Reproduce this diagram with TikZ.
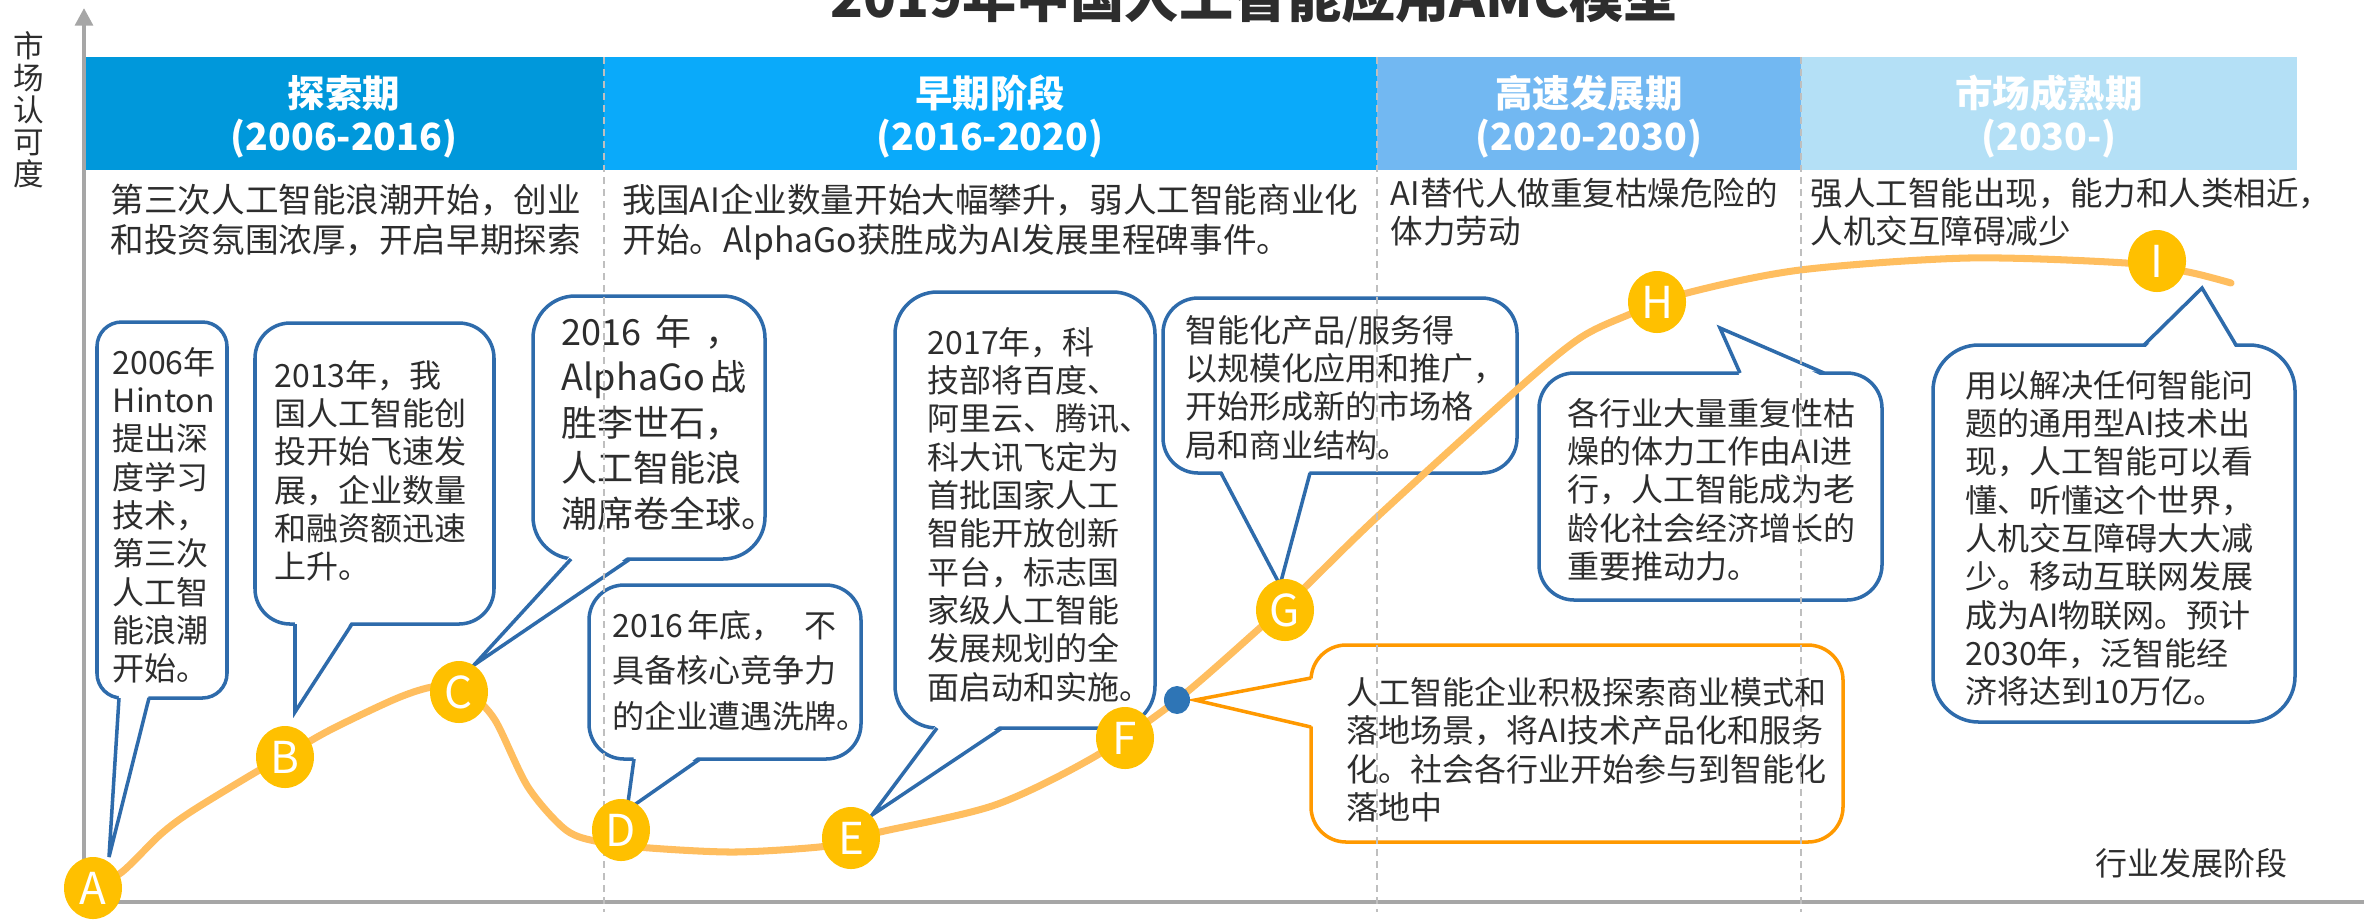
\documentclass[tikz,border=0pt]{standalone}
\usepackage{fontspec}
\setmainfont{Noto Sans CJK SC}
\usetikzlibrary{arrows.meta,shapes.geometric}
\newlength\pxu \setlength\pxu{0.01cm}
\newcommand\vl[1]{\vtop{\lineskiplimit=-1000pt\lineskip=0pt\halign{##\hfil\cr#1\crcr}}}
\newcommand\vc[1]{\vtop{\lineskiplimit=-1000pt\lineskip=0pt\halign{\hfil##\hfil\cr#1\crcr}}}
\definecolor{hA}{RGB}{0,152,219}
\definecolor{hB}{RGB}{10,170,250}
\definecolor{hC}{RGB}{114,184,242}
\definecolor{hD}{RGB}{180,224,246}
\definecolor{bblue}{RGB}{46,107,171}
\definecolor{obrd}{RGB}{255,153,0}
\definecolor{crv}{RGB}{255,190,95}
\definecolor{cyel}{RGB}{255,192,0}
\definecolor{dotb}{RGB}{46,117,182}
\definecolor{axg}{RGB}{166,166,166}
\definecolor{dashg}{RGB}{191,191,191}
\definecolor{txt}{RGB}{45,45,45}
\begin{document}
\begin{tikzpicture}[x=0.01cm,y=-0.01cm,
  bub/.style={draw=bblue, line width=1pt, fill=white, rounded corners=10pt},
  obub/.style={draw=obrd, line width=1pt, fill=white, rounded corners=10pt},
  bside/.style={draw=bblue, line width=1pt, line join=miter},
  oside/.style={draw=obrd, line width=1pt, line join=miter},
  t32/.style={anchor=base west, inner sep=0, text=txt, font=\fontsize{9.1pt}{10.9pt}\selectfont},
  body/.style={anchor=base west, inner sep=0, text=txt, font=\fontsize{9.55pt}{11.4pt}\selectfont},
  bodys/.style={anchor=base west, inner sep=0, text=txt, font=\fontsize{9.25pt}{11pt}\selectfont},
  hdr/.style={anchor=base, inner sep=0, text=white, font=\bfseries\fontsize{10.64pt}{12.23pt}\selectfont},
  letter/.style={ellipse, fill=cyel, minimum width=58\pxu, minimum height=62\pxu, inner sep=0, text=white, font=\fontsize{12.5pt}{13pt}\selectfont},
  bdot/.style={ellipse, fill=dotb, minimum width=26\pxu, minimum height=28\pxu, inner sep=0},
  axisl/.style={draw=axg, line width=1.15pt},
  dline/.style={draw=dashg, line width=0.45pt, dash pattern=on 7\pxu off 5\pxu},
  curve/.style={draw=crv, line width=2pt, line cap=round}
]
\useasboundingbox (0,0) rectangle (2364,920);

% title
\node[anchor=base, inner sep=0, text=txt, font=\bfseries\fontsize{15.4pt}{18pt}\selectfont] (title) at (1254,17) {2019年中国人工智能应用AMC模型};

% header band
\fill[hA] (84,57) rectangle (604,170);
\fill[hB] (604,57) rectangle (1377,170);
\fill[hC] (1377,57) rectangle (1801,170);
\fill[hD] (1801,57) rectangle (2297,170);
\node[hdr] (h1) at (344,107) {\vc{探索期\cr (2006-2016)}};
\node[hdr] (h2) at (990,107) {\vc{早期阶段\cr (2016-2020)}};
\node[hdr] (h3) at (1589,107) {\vc{高速发展期\cr (2020-2030)}};
\node[hdr] (h4) at (2049,107) {\vc{市场成熟期\cr (2030-)}};

% stage descriptions
\node[body] (d1) at (110,212) {\vl{第三次人工智能浪潮开始，创业\cr 和投资氛围浓厚，开启早期探索}};
\node[body] (d2) at (622,212) {\vl{我国AI企业数量开始大幅攀升，弱人工智能商业化\cr 开始。AlphaGo获胜成为AI发展里程碑事件。}};
\node[bodys] (d3) at (1390,205) {\vl{AI替代人做重复枯燥危险的\cr 体力劳动}};
\node[bodys] (d4) at (1810,205) {\vl{强人工智能出现，能力和人类相近，\cr 人机交互障碍减少}};

% axes
\node[anchor=base, inner sep=0, text=txt, font=\fontsize{8.7pt}{9.1pt}\selectfont] (ylab) at (29,57) {\vc{市\cr 场\cr 认\cr 可\cr 度}};
\coordinate (O) at (84,902);
\coordinate (Ytop) at (84,8);
\coordinate (Xend) at (2364,902);
\draw[axisl] (O) -- (Xend);
\draw[axisl, -{Triangle[width=5pt,length=5pt]}] (O) -- (Ytop);
\node[anchor=base west, inner sep=0, text=txt, font=\fontsize{9.1pt}{10.9pt}\selectfont] (xlab) at (2095,875) {行业发展阶段};

% bubble A
\draw[bub, rounded corners=7pt] (97,322) rectangle (227,698);
\fill[white] (119,694) -- (109,857) -- (149,694) -- cycle;
\draw[bside] (119,698) -- (109,857) -- (149,698);
\node[t32] (tA) at (112,374) {\vl{2006年\cr Hinton\cr 提出深\cr 度学习\cr 技术，\cr 第三次\cr 人工智\cr 能浪潮\cr 开始。}};

% bubble B
\draw[bub] (255,323) rectangle (494,624);
\fill[white] (295,620) -- (295,712) -- (352,620) -- cycle;
\draw[bside] (295,624) -- (295,712) -- (352,624);
\node[t32] (tB) at (274,387) {\vl{2013年，我\cr 国人工智能创\cr 投开始飞速发\cr 展，企业数量\cr 和融资额迅速\cr 上升。}};

% bubble C
\draw[bub, rounded corners=12pt] (533,296) rectangle (765,559);
\fill[white] (571,555) -- (474,665) -- (630,555) -- cycle;
\draw[bside] (571,559) -- (474,665) -- (630,559);
\node[t32, font=\fontsize{10.24pt}{12.95pt}\selectfont] (tC) at (561,345) {\vl{\hbox to 180\pxu{2016\hfill 年\hfill ，}\cr \hbox to 185\pxu{AlphaGo\hfill 战}\cr 胜李世石，\cr 人工智能浪\cr 潮席卷全球。}};

% bubble D
\draw[bub] (589,585) rectangle (861,759);
\fill[white] (634,755) -- (627,810) -- (700,755) -- cycle;
\draw[bside] (634,759) -- (627,810) -- (700,759);
\node[t32, font=\fontsize{9.1pt}{12.95pt}\selectfont] (tD) at (612,637) {\vl{\hbox to 224\pxu{2016\hspace{4\pxu}年底，\hfill 不}\cr 具备核心竞争力\cr 的企业遭遇洗牌。}};

% bubble E
\draw[bub, rounded corners=12pt] (895,292) rectangle (1155,728);
\fill[white] (937,724) -- (872,815) -- (1002,724) -- cycle;
\draw[bside] (937,728) -- (872,815) -- (1002,728);
\node[t32] (tE) at (927,354) {\vl{2017年，科\cr 技部将百度、\cr 阿里云、腾讯、\cr 科大讯飞定为\cr 首批国家人工\cr 智能开放创新\cr 平台，标志国\cr 家级人工智能\cr 发展规划的全\cr 面启动和实施。}};

% bubble G
\draw[bub] (1163,298) rectangle (1517,473);
\fill[white] (1221,469) -- (1280,585) -- (1310,469) -- cycle;
\draw[bside] (1221,473) -- (1280,585) -- (1310,473);
\node[t32] (tG) at (1185,342) {\vl{智能化产品/服务得\cr 以规模化应用和推广，\cr 开始形成新的市场格\cr 局和商业结构。}};

% bubble H
\draw[bub] (1539,373) rectangle (1882,600);
\fill[white] (1740,377) -- (1720,328) -- (1824,377) -- cycle;
\draw[bside] (1740,373) -- (1720,328) -- (1824,373);
\node[t32] (tH) at (1567,425) {\vl{各行业大量重复性枯\cr 燥的体力工作由AI进\cr 行，人工智能成为老\cr 龄化社会经济增长的\cr 重要推动力。}};

% bubble I
\draw[bub, rounded corners=13pt] (1933,345) rectangle (2295,722);
\fill[white] (2144,349) -- (2202,288) -- (2236,349) -- cycle;
\draw[bside] (2144,345) -- (2202,288) -- (2236,345);
\node[t32] (tI) at (1965,397) {\vl{用以解决任何智能问\cr 题的通用型AI技术出\cr 现，人工智能可以看\cr 懂、听懂这个世界，\cr 人机交互障碍大大减\cr 少。移动互联网发展\cr 成为AI物联网。预计\cr 2030年，泛智能经\cr 济将达到10万亿。}};

% orange bubble
\draw[obub] (1311,645) rectangle (1843,842);
\fill[white] (1315,678) -- (1195,700) -- (1315,727) -- cycle;
\draw[oside] (1311,678) -- (1195,700) -- (1311,727);
\node[t32, font=\fontsize{9.1pt}{10.95pt}\selectfont] (tO) at (1346,704) {\vl{人工智能企业积极探索商业模式和\cr 落地场景，将AI技术产品化和服务\cr 化。社会各行业开始参与到智能化\cr 落地中}};

% curve
\draw[curve] plot[smooth, tension=0.5] coordinates {
 (93,888) (122,872) (161,834) (192,811) (256,772) (285,756) (330,730) (400,697) (440,686) (470,695)
 (495,720) (528,787) (566,830) (600,842) (650,848) (734,852) (819,847) (851,840) (880,832)
 (995,805) (1094,757) (1177,700) (1261,627) (1300,592) (1377,517) (1520,387) (1580,338)
 (1628,315) (1687,293) (1800,270) (1968,258) (2126,263) (2188,272) (2231,283)};

% stage separators
\draw[dline] (604,57) -- (604,912);
\draw[dline] (1377,57) -- (1377,912);
\draw[dline] (1801,57) -- (1801,912);

% milestone markers
\node[letter] (A) at (93,888) {A};
\node[letter] (B) at (285,757) {B};
\node[letter] (C) at (459,692) {C};
\node[letter] (D) at (621,830) {D};
\node[letter] (E) at (851,838) {E};
\node[letter] (F) at (1125,738) {F};
\node[letter] (G) at (1285,610) {G};
\node[letter] (H) at (1657,302) {H};
\node[letter] (I) at (2157,261) {I};
\node[bdot] (dot) at (1177,700) {};
\end{tikzpicture}
\end{document}
